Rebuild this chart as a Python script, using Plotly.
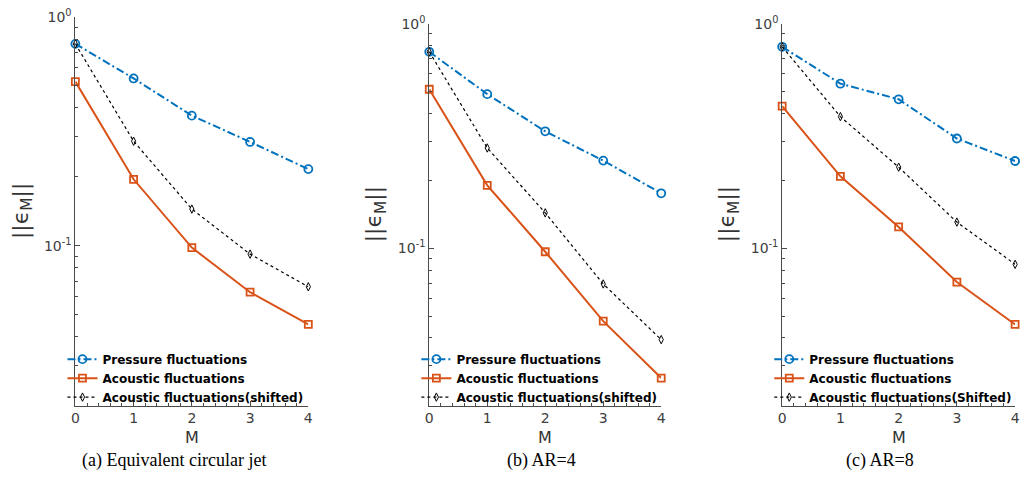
import plotly.graph_objects as go

# Number of retained modes M
M = [0, 1, 2, 3, 4]

# (a) equivalent circular jet
pressure_a = [0.762, 0.538, 0.370, 0.284, 0.216]
acoustic_a = [0.521, 0.195, 0.098, 0.0626, 0.0453]
shifted_a = [0.762, 0.286, 0.1445, 0.0918, 0.0661]

# (b) AR=4
pressure_b = [0.750, 0.486, 0.332, 0.246, 0.176]
acoustic_b = [0.511, 0.191, 0.0967, 0.0475, 0.0265]
shifted_b = [0.750, 0.280, 0.144, 0.0695, 0.0393]

# (c) AR=8
pressure_c = [0.789, 0.541, 0.461, 0.3085, 0.245]
acoustic_c = [0.4295, 0.2094, 0.1247, 0.0709, 0.0459]
shifted_c = [0.789, 0.386, 0.230, 0.131, 0.085]

captions = ["(a) Equivalent circular jet", "(b) AR=4", "(c) AR=8"]
shifted_names = [
    "Acoustic fluctuations(shifted)",
    "Acoustic fluctuations(shifted)",
    "Acoustic fluctuations(Shifted)",
]
y_tickvals = [0.1, 1]
y_ticktext = ["10<sup>-1</sup>", "10<sup>0</sup>"]
y_minor = [0.02, 0.03, 0.04, 0.05, 0.06, 0.07, 0.08, 0.09,
           0.2, 0.3, 0.4, 0.5, 0.6, 0.7, 0.8, 0.9]

W, H = 1033, 478
BLUE = "#0072BD"
ORANGE = "#D95319"
AXIS = "#4a4a4a"
TICKFONT = dict(family="DejaVu Sans", size=14, color="#404040")

# pixel geometry of each panel: (x0, x1, ytop)
panels = [(72, 307, 7), (429, 663, 14), (785, 1020, 14)]
y_bottom = 404
caption_x = [171, 542, 884]

series = [
    (pressure_a, acoustic_a, shifted_a),
    (pressure_b, acoustic_b, shifted_b),
    (pressure_c, acoustic_c, shifted_c),
]

fig = go.Figure()
layout = dict(
    width=W, height=H,
    margin=dict(l=0, r=0, t=0, b=0),
    paper_bgcolor="white", plot_bgcolor="white",
    annotations=[],
)

for i, ((p, a, s), (x0, x1, yt)) in enumerate(zip(series, panels)):
    n = "" if i == 0 else str(i + 1)
    xa, ya = "x" + n, "y" + n
    leg = "legend" + n

    fig.add_trace(go.Scatter(
        x=M, y=p, xaxis=xa, yaxis=ya, legend=leg,
        name="Pressure fluctuations", mode="lines+markers",
        line=dict(color=BLUE, width=2, dash="8px,3px,2px,3px"),
        marker=dict(symbol="circle-open", size=8, color=BLUE,
                    line=dict(width=1.8, color=BLUE)),
        cliponaxis=False,
    ))
    fig.add_trace(go.Scatter(
        x=M, y=a, xaxis=xa, yaxis=ya, legend=leg,
        name="Acoustic fluctuations", mode="lines+markers",
        line=dict(color=ORANGE, width=2),
        marker=dict(symbol="square-open", size=7, color=ORANGE,
                    line=dict(width=1.8, color=ORANGE)),
        cliponaxis=False,
    ))
    fig.add_trace(go.Scatter(
        x=M, y=s, xaxis=xa, yaxis=ya, legend=leg,
        name=shifted_names[i], mode="lines+markers",
        line=dict(color="black", width=1.2, dash="3px,3px"),
        marker=dict(symbol="diamond-tall-open", size=6, color="black",
                    line=dict(width=1, color="black")),
        cliponaxis=False,
    ))

    layout["xaxis" + n] = dict(
        domain=[x0 / W, x1 / W], anchor=ya, range=[0, 4],
        tickvals=M, ticks="inside", ticklen=5, tickcolor=AXIS,
        showline=True, linecolor=AXIS, linewidth=1,
        showgrid=False, zeroline=False, tickfont=TICKFONT,
        minor=dict(dtick=0.2, ticks="inside", ticklen=3, tickcolor=AXIS,
                   showgrid=False),
    )
    layout["yaxis" + n] = dict(
        domain=[1 - y_bottom / H, 1 - yt / H], anchor=xa,
        type="log", range=[-1.69897, 0],
        tickvals=y_tickvals, ticktext=y_ticktext,
        ticks="inside", ticklen=5, tickcolor=AXIS,
        showline=True, linecolor=AXIS, linewidth=1,
        showgrid=False, zeroline=False, tickfont=TICKFONT,
        minor=dict(tickvals=y_minor, ticks="inside", ticklen=3,
                   tickcolor=AXIS, showgrid=False),
    )
    layout[leg] = dict(
        x=(x0 - 13) / W, xanchor="left",
        y=1 - 376 / H, yanchor="middle",
        bgcolor="rgba(0,0,0,0)", borderwidth=0,
        font=dict(family="DejaVu Sans", size=12, color="black",
                  weight="bold"),
        tracegroupgap=0, itemwidth=30,
    )

    cx = (x0 + x1) / 2
    layout["annotations"] += [
        dict(text="||\u03f5<sub>M</sub>||", textangle=-90,
             x=(x0 - 54) / W, y=1 - ((yt + y_bottom) / 2) / H,
             xref="paper", yref="paper", showarrow=False,
             xanchor="center", yanchor="middle",
             font=dict(family="DejaVu Sans", size=22, color="#333333")),
        dict(text="M", x=cx / W, y=1 - 437 / H,
             xref="paper", yref="paper", showarrow=False,
             xanchor="center", yanchor="middle",
             font=dict(family="DejaVu Sans", size=16, color="#333333")),
        dict(text=captions[i], x=caption_x[i] / W, y=1 - 460 / H,
             xref="paper", yref="paper", showarrow=False,
             xanchor="center", yanchor="middle",
             font=dict(family="Liberation Serif", size=18, color="black")),
    ]

fig.update_layout(**layout)
fig.write_html("out.html")
